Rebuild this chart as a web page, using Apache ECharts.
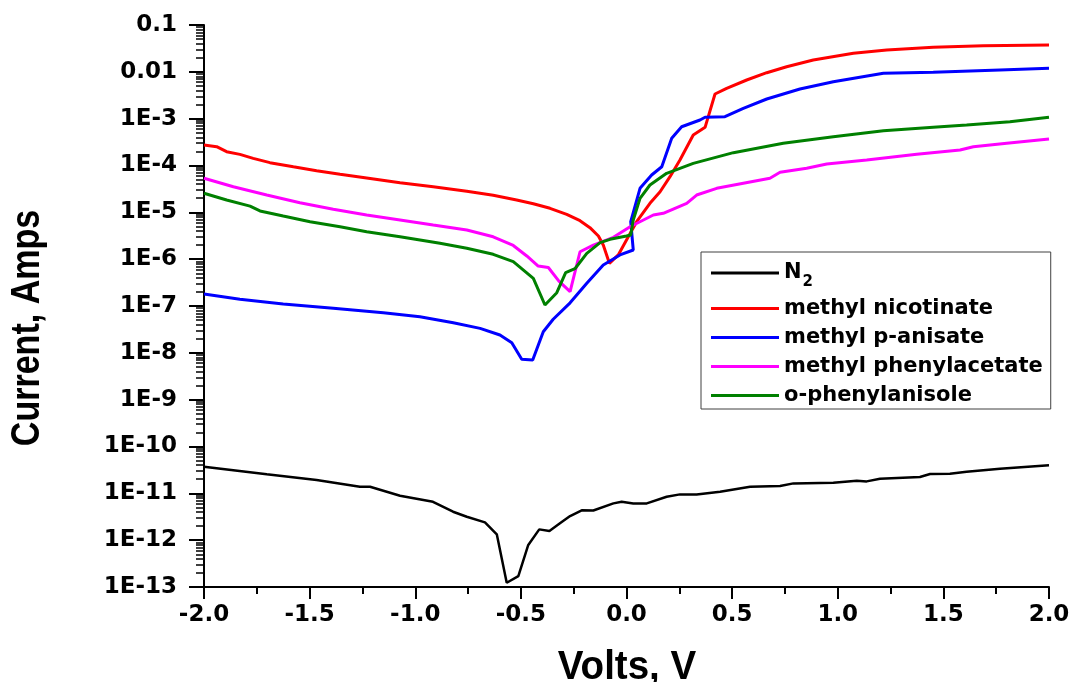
<!DOCTYPE html>
<html><head><meta charset="utf-8">
<script src="https://cdn.jsdelivr.net/npm/echarts@6/dist/echarts.min.js"></script>
<style>html,body{margin:0;padding:0;background:#fff}#c{width:1073px;height:682px}</style>
</head><body><div id="c"></div>
<script>
const seriesNames = ['N2', 'methyl nicotinate', 'methyl p-anisate', 'methyl phenylacetate', 'o-phenylanisole'];
const seriesColors = ['#000000', '#ff0000', '#0000ff', '#ff00ff', '#008000'];

const vN2 = [-2.0,-1.703,-1.467,-1.262,-1.214,-1.072,-0.916,-0.821,-0.756,-0.670,-0.614,-0.567,-0.512,-0.465,-0.413,-0.365,-0.315,-0.267,-0.212,-0.157,-0.062,-0.023,0.032,0.096,0.190,0.253,0.332,0.443,0.585,0.727,0.790,0.979,1.090,1.137,1.200,1.389,1.437,1.531,1.610,1.768,2.0];
const iN2 = [3.70e-11,2.55e-11,1.92e-11,1.38e-11,1.38e-11,8.9e-12,6.6e-12,4.05e-12,3.16e-12,2.40e-12,1.33e-12,1.23e-13,1.71e-13,7.9e-13,1.70e-12,1.57e-12,2.29e-12,3.27e-12,4.34e-12,4.3e-12,6.1e-12,6.6e-12,6.1e-12,6.1e-12,8.45e-12,9.5e-12,9.4e-12,1.08e-11,1.38e-11,1.43e-11,1.63e-11,1.68e-11,1.86e-11,1.80e-11,2.05e-11,2.23e-11,2.58e-11,2.62e-11,2.89e-11,3.35e-11,3.96e-11];

const vNic = [-2.0,-1.94,-1.893,-1.83,-1.767,-1.688,-1.577,-1.467,-1.356,-1.23,-1.072,-0.915,-0.756,-0.631,-0.52,-0.441,-0.362,-0.283,-0.22,-0.173,-0.133,-0.11,-0.081,-0.039,0.0,0.048,0.111,0.159,0.206,0.253,0.316,0.372,0.419,0.474,0.569,0.664,0.758,0.884,1.074,1.232,1.452,1.689,2.0];
const iNic = [2.74e-4,2.52e-4,1.97e-4,1.73e-4,1.42e-4,1.15e-4,9.42e-5,7.74e-5,6.49e-5,5.41e-5,4.29e-5,3.52e-5,2.81e-5,2.31e-5,1.83e-5,1.53e-5,1.22e-5,9.08e-6,6.62e-6,4.70e-6,3.12e-6,2.00e-6,8.15e-7,1.23e-6,2.56e-6,6.31e-6,1.56e-5,2.75e-5,5.77e-5,1.31e-4,4.48e-4,6.54e-4,3.36e-3,4.45e-3,6.69e-3,9.58e-3,0.01287,0.0179,0.0249,0.0292,0.0334,0.0361,0.0374];

const vAni = [-2.0,-1.83,-1.625,-1.388,-1.151,-0.978,-0.82,-0.693,-0.599,-0.543,-0.496,-0.444,-0.394,-0.347,-0.267,-0.188,-0.11,-0.031,0.032,0.02,0.064,0.119,0.167,0.214,0.261,0.348,0.372,0.466,0.553,0.664,0.821,0.979,1.216,1.452,1.768,2.0];
const iAni = [1.80e-7,1.39e-7,1.10e-7,8.91e-8,7.19e-8,5.90e-8,4.40e-8,3.33e-8,2.40e-8,1.64e-8,7.26e-9,7.03e-9,2.82e-8,5.20e-8,1.17e-7,3.05e-7,7.50e-7,1.23e-6,1.57e-6,6.31e-6,3.26e-5,6.27e-5,9.42e-5,3.81e-4,6.73e-4,9.36e-4,1.07e-3,1.10e-3,1.66e-3,2.63e-3,4.30e-3,6.15e-3,9.30e-3,9.77e-3,0.01094,0.0119];

const vPha = [-2.0,-1.861,-1.703,-1.546,-1.388,-1.23,-1.072,-0.915,-0.756,-0.631,-0.536,-0.472,-0.418,-0.37,-0.32,-0.267,-0.22,-0.157,-0.062,0.017,0.127,0.174,0.285,0.332,0.427,0.553,0.679,0.727,0.853,0.948,1.137,1.374,1.579,1.642,1.8,2.0];
const iPha = [5.33e-5,3.52e-5,2.34e-5,1.60e-5,1.16e-5,8.77e-6,6.86e-6,5.36e-6,4.19e-6,3.01e-6,1.96e-6,1.17e-6,7.14e-7,6.64e-7,3.41e-7,2.02e-7,1.44e-6,2.00e-6,2.93e-6,4.93e-6,8.77e-6,9.53e-6,1.56e-5,2.34e-5,3.26e-5,4.17e-5,5.33e-5,7.16e-5,8.71e-5,1.08e-4,1.31e-4,1.73e-4,2.14e-4,2.52e-4,2.98e-4,3.68e-4];

const vOph = [-2.0,-1.893,-1.782,-1.735,-1.625,-1.498,-1.356,-1.23,-1.072,-0.883,-0.756,-0.631,-0.536,-0.441,-0.386,-0.33,-0.288,-0.244,-0.188,-0.125,-0.078,0.0,0.02,0.032,0.064,0.111,0.19,0.316,0.506,0.742,0.979,1.216,1.452,1.61,1.815,2.0];
const iOph = [2.55e-5,1.83e-5,1.36e-5,1.07e-5,8.34e-6,6.31e-6,4.93e-6,3.86e-6,3.01e-6,2.18e-6,1.71e-6,1.27e-6,8.83e-7,3.90e-7,1.05e-7,1.92e-7,5.14e-7,6.25e-7,1.33e-6,2.25e-6,2.65e-6,3.12e-6,3.28e-6,6.86e-6,1.99e-5,3.83e-5,6.81e-5,1.11e-4,1.88e-4,2.98e-4,4.12e-4,5.53e-4,6.54e-4,7.33e-4,8.61e-4,1.07e-3];

const yTickValues = [1e-13,1e-12,1e-11,1e-10,1e-9,1e-8,1e-7,1e-6,1e-5,1e-4,1e-3,0.01,0.1];
const yTickLabels = ['1E-13','1E-12','1E-11','1E-10','1E-9','1E-8','1E-7','1E-6','1E-5','1E-4','1E-3','0.01','0.1'];
const xTickLabels = ['-2.0','-1.5','-1.0','-0.5','0.0','0.5','1.0','1.5','2.0'];

const allV = [vN2, vNic, vAni, vPha, vOph];
const allI = [iN2, iNic, iAni, iPha, iOph];

// log minor ticks (2..9 in each decade)
const yMinor = [];
for (let e = -13; e <= -2; e++) {
  for (let k = 2; k <= 9; k++) yMinor.push(Number((k * Math.pow(10, e)).toPrecision(3)));
}

const LBL = "'DejaVu Sans', 'Liberation Sans', Arial, sans-serif";
const TTL = "'Liberation Sans', Arial, sans-serif";

const chart = echarts.init(document.getElementById('c'), null, {renderer: 'canvas'});
const series = seriesNames.map((name, s) => ({
  name: name,
  type: 'line',
  xAxisIndex: 0,
  yAxisIndex: 0,
  showSymbol: false,
  symbol: 'none',
  smooth: false,
  color: seriesColors[s],
  lineStyle: {color: seriesColors[s], width: s === 0 ? 2.5 : 3},
  data: allV[s].map((v, i) => [v, allI[s][i]]),
  z: 2 + s
}));

chart.setOption({
  animation: false,
  backgroundColor: '#ffffff',
  grid: {left: 204, right: 24, top: 25, bottom: 95},
  xAxis: {
    type: 'value', min: -2, max: 2, interval: 0.5,
    axisLine: {show: true, onZero: false, lineStyle: {color: '#000', width: 2}},
    axisTick: {show: true, inside: false, length: 12, lineStyle: {color: '#000', width: 2}},
    minorTick: {show: true, splitNumber: 2, length: 7, lineStyle: {color: '#000', width: 2}},
    splitLine: {show: false},
    axisLabel: {
      margin: 17, color: '#000', fontFamily: LBL, fontWeight: 'bold', fontSize: 23,
      formatter: v => xTickLabels[Math.round((v + 2) / 0.5)]
    }
  },
  yAxis: [{
    type: 'log', logBase: 10, min: 1e-13, max: 0.1, position: 'left',
    axisLine: {show: true, onZero: false, lineStyle: {color: '#000', width: 2}},
    axisTick: {show: true, length: 15, customValues: yTickValues, lineStyle: {color: '#000', width: 2}},
    splitLine: {show: false},
    axisLabel: {
      margin: 27, color: '#000', fontFamily: LBL, fontWeight: 'bold', fontSize: 23,
      customValues: yTickValues,
      formatter: v => {
        const idx = Math.round(Math.log10(v)) + 13;
        return yTickLabels[idx];
      }
    }
  }, {
    type: 'log', logBase: 10, min: 1e-13, max: 0.1, position: 'left',
    axisLine: {show: false, onZero: false},
    axisTick: {show: true, length: 8, customValues: yMinor, lineStyle: {color: '#000', width: 1.5}},
    axisLabel: {show: false},
    splitLine: {show: false}
  }],
  legend: {
    orient: 'vertical', left: 701, top: 252,
    padding: [4, 8, 3, 10],
    itemGap: 8, itemWidth: 68, itemHeight: 3, icon: 'rect',
    borderColor: '#404040', borderWidth: 1, backgroundColor: '#fff',
    data: seriesNames,
    formatter: name => name === 'N2' ? '{n|N}{s|2}' : '{t|' + name + '}',
    textStyle: {
      color: '#000', fontFamily: LBL, fontWeight: 'bold', fontSize: 21,
      rich: {
        t: {fontFamily: LBL, fontWeight: 'bold', fontSize: 21, lineHeight: 22, color: '#000'},
        n: {fontFamily: LBL, fontWeight: 'bold', fontSize: 21, lineHeight: 36, color: '#000'},
        s: {fontFamily: LBL, fontWeight: 'bold', fontSize: 15, lineHeight: 16, padding: [19, 0, 0, 1], color: '#000'}
      }
    }
  },
  graphic: [
    {type: 'text', x: 28, y: 328, rotation: Math.PI / 2, scaleX: 0.83,
     style: {text: 'Current, Amps', font: "bold 41px " + TTL, fill: '#000', textAlign: 'center', textVerticalAlign: 'middle'}},
    {type: 'text', x: 627, y: 668, scaleX: 0.94,
     style: {text: 'Volts, V', font: "bold 41px " + TTL, fill: '#000', textAlign: 'center', textVerticalAlign: 'middle'}}
  ],
  series: series
});
</script></body></html>
